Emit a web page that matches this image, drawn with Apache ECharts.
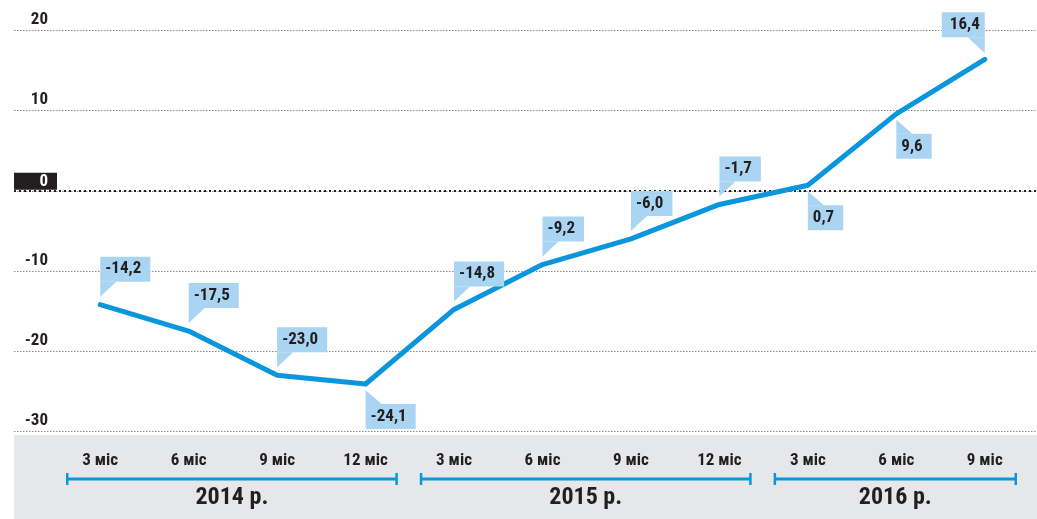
<!DOCTYPE html>
<html>
<head>
<meta charset="utf-8">
<script src="https://cdn.jsdelivr.net/npm/echarts@6/dist/echarts.min.js"></script>
<style>
html,body{margin:0;padding:0;background:#fff;}
#chart{width:1037px;height:519px;}
</style>
</head>
<body>
<div id="chart"></div>
<script>
// ---- data ----
const categories = ['3 міс','6 міс','9 міс','12 міс','3 міс','6 міс','9 міс','12 міс','3 міс','6 міс','9 міс'];
const values = [-14.2, -17.5, -23.0, -24.1, -14.8, -9.2, -6.0, -1.7, 0.7, 9.6, 16.4];
const years = ['2014 р.', '2015 р.', '2016 р.'];
const yearStart = [0, 4, 8];
const yearEnd = [3, 7, 10];
const yTicks = [-30, -20, -10, 0, 10, 20];
// label placement (presentation)
const labelSide = ['up','up','up','down','up','up','up','up','down','down','left'];

const FONT = '"Liberation Sans Narrow", "Roboto Condensed", "DejaVu Sans Condensed", Roboto, sans-serif';
const TXT = '#231f20';
const BLUE = '#0a96dc';
const CALL = '#a9d5f2';

const fmt = v => v.toFixed(1).replace('.', ',');

const chart = echarts.init(document.getElementById('chart'), null, {renderer: 'canvas'});

const GRID_TOP = 30.5, GRID_BOTTOM = 87.7;

const option = {
  animation: false,
  backgroundColor: '#fff',
  graphic: [{
    type: 'rect', z: -10, silent: true,
    shape: {x: 14, y: 435, width: 1023, height: 84},
    style: {fill: '#e6e7e8'}
  }],
  grid: [
    {left: 14, right: 0, top: GRID_TOP, bottom: GRID_BOTTOM},
    {left: 56, right: 8, top: GRID_TOP, bottom: GRID_BOTTOM}
  ],
  xAxis: [
    {gridIndex: 0, type: 'value', min: 0, max: 1, show: false},
    {gridIndex: 1, type: 'category', data: categories, boundaryGap: true,
     axisLine: {show: false}, axisTick: {show: false},
     axisLabel: {interval: 0, margin: 21, color: TXT, fontFamily: FONT, fontWeight: 'bold', fontSize: 17}}
  ],
  yAxis: [
    {gridIndex: 0, type: 'value', min: yTicks[0], max: yTicks[yTicks.length-1], interval: 10,
     axisLine: {show: false}, axisTick: {show: false},
     splitLine: {show: true, lineStyle: {color: '#8a8a8a', type: [1.5, 1.5], width: 1}},
     axisLabel: {
       inside: true, align: 'right', verticalAlign: 'bottom', margin: 43,
       formatter: v => v === 0 ? '{z|' + v + '}' : '{n|' + v + '}',
       rich: {
         n: {color: TXT, fontFamily: FONT, fontWeight: 'bold', fontSize: 17, padding: [0, 9, 3, 0], lineHeight: 18},
         z: {color: '#fff', backgroundColor: TXT, fontFamily: FONT, fontWeight: 'bold', fontSize: 17,
             width: 34, align: 'right', padding: [0, 9, 0, 0], height: 17, lineHeight: 19}
       }
     }},
    {gridIndex: 1, type: 'value', min: yTicks[0], max: yTicks[yTicks.length-1], interval: 10, show: false,
     splitLine: {show: false}}
  ],
  series: [
    {
      type: 'line', xAxisIndex: 0, yAxisIndex: 0, data: [], silent: true,
      markLine: {
        silent: true, symbol: 'none', label: {show: false},
        lineStyle: {color: TXT, type: [2, 3], width: 2},
        data: [{yAxis: 0}]
      }
    },
    {
      type: 'line', xAxisIndex: 1, yAxisIndex: 1,
      data: values, symbol: 'none', smooth: false,
      lineStyle: {color: BLUE, width: 5, cap: 'round', join: 'round'},
      z: 5
    },
    {
      type: 'custom', xAxisIndex: 1, yAxisIndex: 1, clip: false, z: 10,
      data: values.map((v, i) => [i, v]),
      renderItem: function (params, api) {
        const i = api.value(0), v = api.value(1);
        const p = api.coord([i, v]);
        const px = p[0], py = p[1];
        const side = labelSide[params.dataIndex];
        const txt = fmt(v);
        let tail, tx, ty, align;
        if (side === 'up') {
          tail = [[px, py - 23], [px, py - 8], [px + 16, py - 23]];
          tx = px; ty = py - 23; align = 'left';
        } else if (side === 'down') {
          tail = [[px, py + 20], [px, py + 6], [px + 16, py + 20]];
          tx = px; ty = py + 20 + 25; align = 'left';
        } else {
          tail = [[px, py - 22], [px, py - 6], [px - 17, py - 22]];
          tx = px; ty = py - 22; align = 'right';
        }
        return {
          type: 'group',
          children: [
            {type: 'polygon', shape: {points: tail}, style: {fill: CALL}},
            {type: 'text', x: tx, y: ty,
             style: {text: txt, fill: TXT, font: 'bold 17px ' + FONT,
                     align: align, verticalAlign: 'bottom', lineHeight: 19,
                     backgroundColor: CALL,
                     padding: align === 'right' ? [3, 5, 3, 8] : [3, 9, 3, 5]}}
          ]
        };
      }
    },
    {
      type: 'custom', xAxisIndex: 1, yAxisIndex: 1, clip: false, z: 10,
      data: years.map((y, k) => [yearStart[k], yearEnd[k], k]),
      renderItem: function (params, api) {
        const s = api.value(0), e = api.value(1);
        const k = api.value(2);
        const x1 = api.coord([s, 0])[0] - 33;
        const x2 = api.coord([e, 0])[0] + 31;
        const yl = 479;
        return {
          type: 'group',
          children: [
            {type: 'line', shape: {x1: x1, y1: yl, x2: x2, y2: yl}, style: {stroke: BLUE, lineWidth: 3}},
            {type: 'line', shape: {x1: x1, y1: yl - 6, x2: x1, y2: yl + 6}, style: {stroke: BLUE, lineWidth: 2.5}},
            {type: 'line', shape: {x1: x2, y1: yl - 6, x2: x2, y2: yl + 6}, style: {stroke: BLUE, lineWidth: 2.5}},
            {type: 'text', x: (x1 + x2) / 2, y: 498,
             style: {text: years[k], fill: TXT, font: 'bold 24px ' + FONT, align: 'center', verticalAlign: 'middle'}}
          ]
        };
      }
    }
  ]
};
chart.setOption(option);
</script>
</body>
</html>
